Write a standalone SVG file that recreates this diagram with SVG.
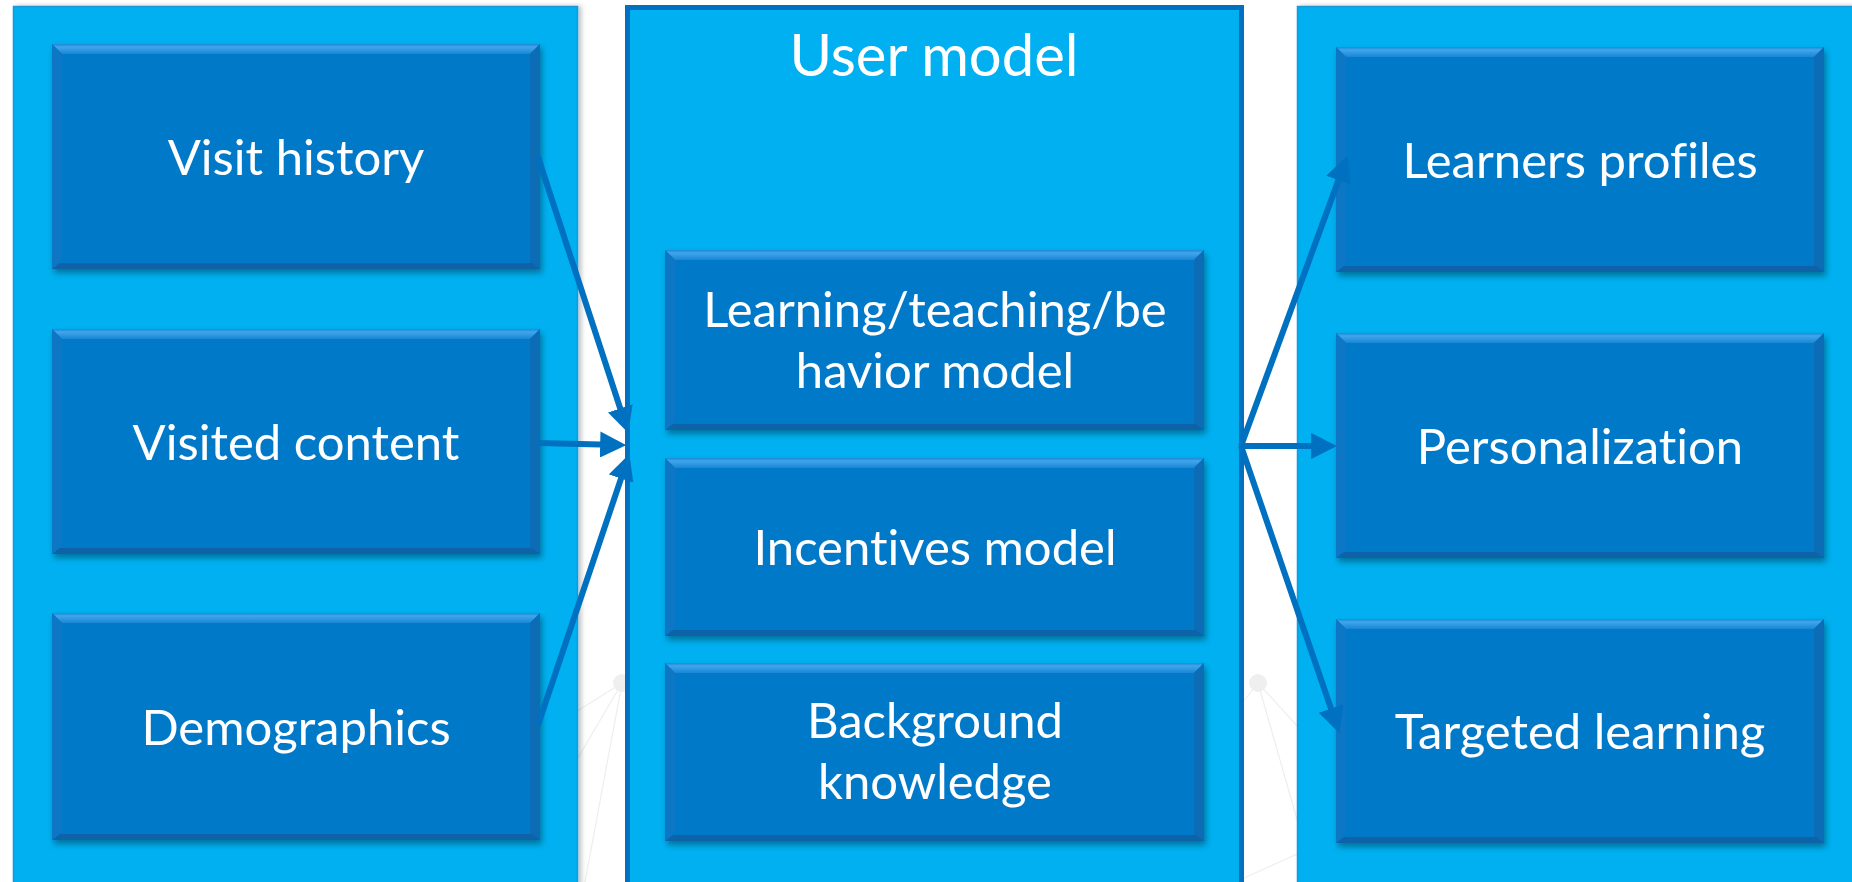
<svg xmlns="http://www.w3.org/2000/svg" width="1852" height="882" viewBox="0 0 1852 882">
<style>
.panel{fill:#00B0F0;}
.pl{stroke:#1A98D8;stroke-width:1.5;}
.pm{stroke:#0070C0;stroke-width:5;}
.base{fill:#0679C9;}
.btop{fill:url(#gTop);}
.bleft{fill:#0A77C6;}
.bright{fill:#086CB6;}
.bbot{fill:#0862A8;}
.t{fill:#FFFFFF;font-family:Lato,"Open Sans","Liberation Sans",sans-serif;font-size:49px;text-anchor:middle;font-variant-ligatures:none;font-feature-settings:"liga" 0;}
.title{font-size:58px;}
.conn{stroke:#0070C0;stroke-width:6;fill:none;marker-end:url(#ah);}
.bg{stroke:#EEEEEE;stroke-width:1.2;fill:none;}
</style>
<defs>
<linearGradient id="gTop" x1="0" y1="0" x2="0" y2="1">
<stop offset="0" stop-color="#1E88D6"/>
<stop offset="0.3" stop-color="#40A6EC"/>
<stop offset="1" stop-color="#1A86D4"/>
</linearGradient>
<filter id="sh" x="-5%" y="-5%" width="115%" height="120%">
<feGaussianBlur in="SourceAlpha" stdDeviation="3"/>
<feOffset dx="2" dy="4" result="o"/>
<feComponentTransfer><feFuncA type="linear" slope="0.35"/></feComponentTransfer>
<feMerge><feMergeNode/><feMergeNode in="SourceGraphic"/></feMerge>
</filter>
<filter id="psh" x="-5%" y="-5%" width="115%" height="115%">
<feGaussianBlur in="SourceAlpha" stdDeviation="2.5"/>
<feOffset dx="3" dy="0"/>
<feComponentTransfer><feFuncA type="linear" slope="0.25"/></feComponentTransfer>
<feMerge><feMergeNode/><feMergeNode in="SourceGraphic"/></feMerge>
</filter>
<marker id="ah" viewBox="0 0 24 24" refX="10" refY="12" markerWidth="26" markerHeight="26" markerUnits="userSpaceOnUse" orient="auto">
<path d="M0,0 L24,12 L0,24 Z" fill="#0070C0"/>
</marker>
</defs>
<rect x="0" y="0" width="1852" height="882" fill="#FFFFFF"/>
<g id="background-network">
<circle cx="622" cy="683" r="9" fill="#EFEFEF"/>
<line class="bg" x1="622" y1="683" x2="560" y2="722"/>
<line class="bg" x1="622" y1="683" x2="565" y2="780"/>
<line class="bg" x1="622" y1="683" x2="585" y2="882"/>
<circle cx="1258" cy="683" r="9" fill="#EFEFEF"/>
<line class="bg" x1="1258" y1="683" x2="1310" y2="740"/>
<line class="bg" x1="1258" y1="683" x2="1300" y2="830"/>
<line class="bg" x1="1258" y1="683" x2="1235" y2="712"/>
<line class="bg" x1="1240" y1="880" x2="1310" y2="848"/>
</g>
<g id="panel-left" filter="url(#psh)">
<rect class="panel pl" x="13.5" y="6.5" width="564" height="900"/>
</g>
<g id="panel-right" filter="url(#psh)">
<rect class="panel pl" x="1297.5" y="6.5" width="580" height="900"/>
</g>
<g id="panel-user-model">
<rect class="panel pm" x="627.5" y="7.5" width="614" height="900"/>
<text class="t title" x="934" y="76">User model</text>
</g>
<g id="node-visit-history" filter="url(#sh)">
<rect class="base" x="52" y="44" width="488" height="225"/>
<polygon class="btop" points="52,44 540,44 530,54 62,54"/>
<polygon class="bleft" points="52,44 62,54 62,259 52,269"/>
<polygon class="bright" points="540,44 530,54 530,263 540,269"/>
<polygon class="bbot" points="52,269 540,269 532,263 60,263"/>
<text class="t" x="296" y="175">Visit history</text>
</g>
<g id="node-visited-content" filter="url(#sh)">
<rect class="base" x="52" y="329" width="488" height="225"/>
<polygon class="btop" points="52,329 540,329 530,339 62,339"/>
<polygon class="bleft" points="52,329 62,339 62,544 52,554"/>
<polygon class="bright" points="540,329 530,339 530,548 540,554"/>
<polygon class="bbot" points="52,554 540,554 532,548 60,548"/>
<text class="t" x="296" y="460">Visited content</text>
</g>
<g id="node-demographics" filter="url(#sh)">
<rect class="base" x="52" y="613" width="488" height="227"/>
<polygon class="btop" points="52,613 540,613 530,623 62,623"/>
<polygon class="bleft" points="52,613 62,623 62,830 52,840"/>
<polygon class="bright" points="540,613 530,623 530,834 540,840"/>
<polygon class="bbot" points="52,840 540,840 532,834 60,834"/>
<text class="t" x="296" y="745">Demographics</text>
</g>
<g id="node-learning-model" filter="url(#sh)">
<rect class="base" x="665" y="250" width="539" height="180"/>
<polygon class="btop" points="665,250 1204,250 1194,260 675,260"/>
<polygon class="bleft" points="665,250 675,260 675,420 665,430"/>
<polygon class="bright" points="1204,250 1194,260 1194,424 1204,430"/>
<polygon class="bbot" points="665,430 1204,430 1196,424 673,424"/>
<text class="t" x="935" y="327">Learning/teaching/be</text>
<text class="t" x="935" y="388">havior model</text>
</g>
<g id="node-incentives-model" filter="url(#sh)">
<rect class="base" x="665" y="458" width="539" height="178"/>
<polygon class="btop" points="665,458 1204,458 1194,468 675,468"/>
<polygon class="bleft" points="665,458 675,468 675,626 665,636"/>
<polygon class="bright" points="1204,458 1194,468 1194,630 1204,636"/>
<polygon class="bbot" points="665,636 1204,636 1196,630 673,630"/>
<text class="t" x="935" y="565">Incentives model</text>
</g>
<g id="node-background-knowledge" filter="url(#sh)">
<rect class="base" x="665" y="663" width="539" height="178"/>
<polygon class="btop" points="665,663 1204,663 1194,673 675,673"/>
<polygon class="bleft" points="665,663 675,673 675,831 665,841"/>
<polygon class="bright" points="1204,663 1194,673 1194,835 1204,841"/>
<polygon class="bbot" points="665,841 1204,841 1196,835 673,835"/>
<text class="t" x="935" y="738">Background</text>
<text class="t" x="935" y="799">knowledge</text>
</g>
<g id="node-learners-profiles" filter="url(#sh)">
<rect class="base" x="1336" y="47" width="488" height="225"/>
<polygon class="btop" points="1336,47 1824,47 1814,57 1346,57"/>
<polygon class="bleft" points="1336,47 1346,57 1346,262 1336,272"/>
<polygon class="bright" points="1824,47 1814,57 1814,266 1824,272"/>
<polygon class="bbot" points="1336,272 1824,272 1816,266 1344,266"/>
<text class="t" x="1580" y="178">Learners profiles</text>
</g>
<g id="node-personalization" filter="url(#sh)">
<rect class="base" x="1336" y="333" width="488" height="225"/>
<polygon class="btop" points="1336,333 1824,333 1814,343 1346,343"/>
<polygon class="bleft" points="1336,333 1346,343 1346,548 1336,558"/>
<polygon class="bright" points="1824,333 1814,343 1814,552 1824,558"/>
<polygon class="bbot" points="1336,558 1824,558 1816,552 1344,552"/>
<text class="t" x="1580" y="464">Personalization</text>
</g>
<g id="node-targeted-learning" filter="url(#sh)">
<rect class="base" x="1336" y="619" width="488" height="224"/>
<polygon class="btop" points="1336,619 1824,619 1814,629 1346,629"/>
<polygon class="bleft" points="1336,619 1346,629 1346,833 1336,843"/>
<polygon class="bright" points="1824,619 1814,629 1814,837 1824,843"/>
<polygon class="bbot" points="1336,843 1824,843 1816,837 1344,837"/>
<text class="t" x="1580" y="749">Targeted learning</text>
</g>
<g id="connectors">
<line class="conn" x1="538" y1="157" x2="623.6" y2="418.7"/>
<line class="conn" x1="538" y1="443" x2="611" y2="444.7"/>
<line class="conn" x1="538" y1="725" x2="624.5" y2="468.3"/>
<line class="conn" x1="1241" y1="446" x2="1342.2" y2="170.1"/>
<line class="conn" x1="1241" y1="446" x2="1322" y2="446"/>
<line class="conn" x1="1241" y1="446" x2="1334.5" y2="718.8"/>
</g>
</svg>
